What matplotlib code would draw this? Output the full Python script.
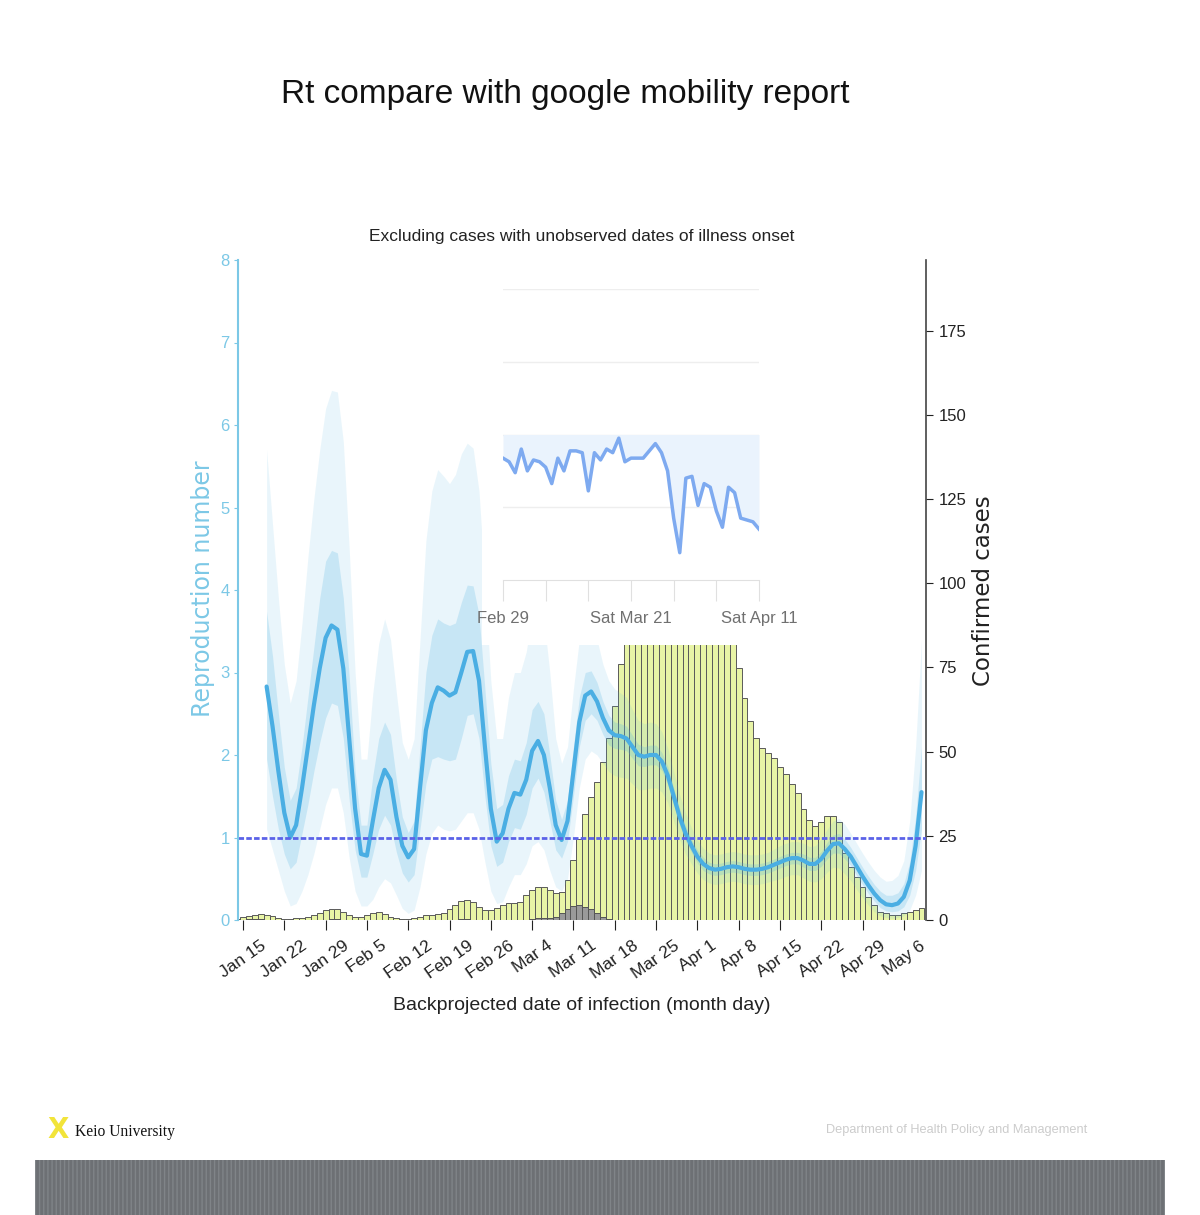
import numpy as np
import matplotlib.pyplot as plt
from matplotlib.patches import Rectangle

# ---- data ----
# days are counted from Jan 15
tick_days = list(range(0, 113, 7))
tick_labels = ['Jan 15', 'Jan 22', 'Jan 29', 'Feb 5', 'Feb 12', 'Feb 19', 'Feb 26',
               'Mar 4', 'Mar 11', 'Mar 18', 'Mar 25', 'Apr 1', 'Apr 8', 'Apr 15',
               'Apr 22', 'Apr 29', 'May 6']

rt_first_day = 4
rt = [2.83, 2.35, 1.8, 1.3, 1.0, 1.15, 1.6, 2.1, 2.6, 3.05, 3.42, 3.57, 3.52, 3.05,
      2.2, 1.35, 0.8, 0.78, 1.2, 1.6, 1.82, 1.7, 1.25, 0.9, 0.76, 0.86, 1.6, 2.3,
      2.63, 2.82, 2.78, 2.72, 2.76, 3.0, 3.25, 3.26, 2.9, 2.1, 1.35, 0.95, 1.05, 1.35,
      1.54, 1.52, 1.7, 2.05, 2.17, 2.0, 1.6, 1.15, 0.97, 1.2, 1.8, 2.4, 2.72, 2.77,
      2.65, 2.45, 2.3, 2.24, 2.23, 2.2, 2.1, 2.0, 1.98, 2.0, 2.0, 1.92, 1.75, 1.5,
      1.25, 1.05, 0.9, 0.77, 0.68, 0.63, 0.61, 0.62, 0.64, 0.65, 0.64, 0.62, 0.61,
      0.61, 0.62, 0.64, 0.67, 0.7, 0.73, 0.75, 0.75, 0.72, 0.68, 0.68, 0.74, 0.84,
      0.92, 0.93, 0.86, 0.77, 0.65, 0.53, 0.42, 0.32, 0.24, 0.19, 0.18, 0.2, 0.28,
      0.48, 0.9, 1.55]
rt_hi50 = [3.74, 3.2, 2.5, 1.85, 1.45, 1.6, 2.1, 2.7, 3.3, 3.9, 4.35, 4.48, 4.45, 3.9,
           2.95, 1.8, 1.15, 1.15, 1.75, 2.2, 2.4, 2.25, 1.7, 1.25, 1.06, 1.2, 2.1, 3.0,
           3.45, 3.65, 3.6, 3.57, 3.6, 3.85, 4.06, 4.05, 3.7, 2.8, 1.9, 1.35, 1.4, 1.75,
           1.95, 1.93, 2.15, 2.55, 2.65, 2.5, 2.0, 1.45, 1.22, 1.45, 2.1, 2.7, 3.0, 3.02,
           2.88, 2.65, 2.48, 2.4, 2.38, 2.35, 2.24, 2.13, 2.1, 2.12, 2.12, 2.03, 1.86,
           1.6, 1.35, 1.14, 0.98, 0.85, 0.76, 0.7, 0.68, 0.69, 0.71, 0.72, 0.71, 0.69,
           0.68, 0.68, 0.69, 0.71, 0.74, 0.77, 0.8, 0.82, 0.82, 0.8, 0.76, 0.76, 0.83,
           0.94, 1.03, 1.05, 0.98, 0.88, 0.76, 0.64, 0.53, 0.43, 0.35, 0.3, 0.3, 0.33,
           0.44, 0.7, 1.25, 2.1]
rt_lo50 = [1.95, 1.5, 1.1, 0.8, 0.62, 0.7, 1.05, 1.4, 1.8, 2.15, 2.45, 2.63, 2.6, 2.2,
           1.45, 0.85, 0.52, 0.52, 0.8, 1.1, 1.27, 1.15, 0.82, 0.57, 0.46, 0.55, 1.1, 1.65,
           1.95, 1.98, 1.95, 1.93, 1.95, 2.2, 2.48, 2.5, 2.2, 1.5, 0.9, 0.65, 0.7, 0.95,
           1.12, 1.1, 1.28, 1.6, 1.72, 1.55, 1.2, 0.85, 0.75, 0.95, 1.5, 2.1, 2.42, 2.5,
           2.42, 2.25, 2.12, 2.08, 2.07, 2.05, 1.96, 1.87, 1.86, 1.88, 1.88, 1.81, 1.64,
           1.4, 1.15, 0.96, 0.82, 0.69, 0.6, 0.56, 0.54, 0.55, 0.57, 0.58, 0.57, 0.55,
           0.54, 0.54, 0.55, 0.57, 0.6, 0.63, 0.66, 0.68, 0.68, 0.64, 0.6, 0.6, 0.65,
           0.74, 0.81, 0.81, 0.74, 0.66, 0.54, 0.43, 0.32, 0.23, 0.15, 0.11, 0.1, 0.11,
           0.16, 0.3, 0.6, 1.1]
rt_hi95 = [5.7, 4.8, 3.9, 3.1, 2.63, 2.9, 3.6, 4.4, 5.1, 5.7, 6.2, 6.42, 6.4, 5.8,
           4.5, 3.0, 1.95, 1.95, 2.75, 3.35, 3.65, 3.4, 2.75, 2.15, 1.95, 2.2, 3.4, 4.6,
           5.2, 5.46, 5.38, 5.29, 5.4, 5.65, 5.78, 5.72, 5.2, 4.1, 2.9, 2.2, 2.2, 2.7,
           3.0, 3.0, 3.25, 3.7, 3.85, 3.65, 3.0, 2.2, 1.9, 2.1, 2.8, 3.4, 3.65, 3.62,
           3.4, 3.1, 2.9, 2.8, 2.75, 2.7, 2.55, 2.42, 2.38, 2.4, 2.38, 2.28, 2.08, 1.8,
           1.52, 1.3, 1.12, 0.97, 0.87, 0.81, 0.79, 0.8, 0.82, 0.83, 0.82, 0.8, 0.79,
           0.79, 0.8, 0.82, 0.86, 0.9, 0.93, 0.95, 0.95, 0.93, 0.89, 0.9, 0.98, 1.1,
           1.2, 1.23, 1.16, 1.05, 0.93, 0.81, 0.7, 0.6, 0.52, 0.47, 0.48, 0.54, 0.72,
           1.2, 2.1, 3.4]
rt_lo95 = [1.1, 0.85, 0.6, 0.35, 0.17, 0.2, 0.35, 0.55, 0.8, 1.1, 1.4, 1.6, 1.6, 1.3,
           0.75, 0.35, 0.17, 0.17, 0.25, 0.4, 0.5, 0.45, 0.3, 0.14, 0.08, 0.12, 0.4, 0.8,
           1.05, 1.15, 1.1, 1.08, 1.1, 1.2, 1.3, 1.3, 1.1, 0.7, 0.35, 0.2, 0.22, 0.4,
           0.55, 0.55, 0.68, 0.9, 0.95, 0.85, 0.6, 0.4, 0.35, 0.5, 1.0, 1.6, 1.95, 2.05,
           2.0, 1.9, 1.8, 1.75, 1.73, 1.72, 1.65, 1.58, 1.58, 1.6, 1.6, 1.55, 1.42, 1.2,
           0.98, 0.8, 0.68, 0.57, 0.49, 0.45, 0.43, 0.44, 0.46, 0.47, 0.46, 0.44, 0.43,
           0.43, 0.44, 0.46, 0.48, 0.5, 0.53, 0.55, 0.55, 0.51, 0.47, 0.46, 0.5, 0.58,
           0.64, 0.63, 0.56, 0.48, 0.37, 0.27, 0.18, 0.1, 0.05, 0.03, 0.02, 0.03, 0.05,
           0.12, 0.3, 0.6]

case_first_day = -1
cases = [0.3, 0.8, 1.2, 1.5, 1.8, 1.6, 1.2, 0.5, 0.3, 0.3, 0.5, 0.7, 1.0, 1.5, 2.2,
         3.0, 3.4, 3.2, 2.5, 1.6, 1.0, 1.0, 1.6, 2.2, 2.3, 1.8, 1.0, 0.5, 0.3, 0.3,
         0.5, 1.0, 1.5, 1.6, 1.7, 2.0, 3.2, 4.5, 5.5, 5.9, 5.4, 3.9, 3.0, 3.0, 3.5,
         4.4, 5.0, 5.0, 5.4, 7.4, 8.9, 9.9, 9.9, 8.9, 7.9, 8.4, 11.8, 17.7, 24, 31.5,
         36.5, 41, 46.8, 54, 63.6, 76,
         88, 96, 102, 108, 112, 115, 118, 116, 113, 110, 107, 104, 100, 97, 94, 91,
         88, 85, 82,
         74.8, 66, 59, 54, 51, 49.7, 48, 45.3, 43.5, 40.5, 37.6, 33, 29.6, 28, 29, 31,
         31, 29, 20, 15.7, 12.7, 9.8, 6.8, 4.4, 2.5, 2, 1.5, 1.5, 2, 2.3, 3, 3.5]
grey_days = [1, 2, 3, 15, 16, 37, 38, 49, 50, 51, 52, 53, 54, 55, 56, 57, 58, 59, 60, 61, 62]
grey_cases = [0.3, 0.3, 0.3, 0.3, 0.3, 0.3, 0.3, 0.4, 0.5, 0.5, 0.5, 0.8, 2.0, 3.2,
              4.2, 4.4, 4.0, 3.2, 2.0, 1.0, 0.4]

# google mobility inset, days from Feb 29, percent change
mob_labels = ['Feb 29', '', '', 'Sat Mar 21', '', '', 'Sat Apr 11']
mobility = [-13, -15, -21, -8, -20, -14, -15, -18, -27, -13, -20, -9, -9, -10, -31,
            -10, -14, -8, -10, -2, -15, -13, -13, -13, -9, -5, -10, -20, -46, -65,
            -24, -23, -39, -27, -29, -42, -51, -29, -32, -46, -47, -48, -52]

W, H = 1200, 1215
sans = 'Liberation Sans'
light_blue = '#7cc8e6'


def box(x0, y0, x1, y1):
    return [x0 / W, 1 - y1 / H, (x1 - x0) / W, (y1 - y0) / H]


fig = plt.figure(figsize=(W / 100, H / 100), dpi=100)

ax = fig.add_axes(box(238, 260, 926, 920))
ax2 = ax.twinx()
ax.set_zorder(2)
ax2.set_zorder(1)
ax.patch.set_visible(False)

case_days = np.arange(case_first_day, case_first_day + len(cases))
ax2.bar(case_days, cases, width=1.0, color='#e8f4a6', edgecolor='#5a5a5a', linewidth=0.7)
ax2.bar(grey_days, grey_cases, width=1.0, color='#9a9a9a', edgecolor='#555555', linewidth=0.7)

rt_days = np.arange(rt_first_day, rt_first_day + len(rt))
ax.fill_between(rt_days, rt_lo95, rt_hi95, color='#50b4e1', alpha=0.12, lw=0)
ax.fill_between(rt_days, rt_lo50, rt_hi50, color='#50b4e1', alpha=0.22, lw=0)
ax.plot(rt_days, rt, color='#4aaee3', lw=3, solid_capstyle='round', solid_joinstyle='round')
ax.axhline(1, color='#5b62e8', lw=2, ls=(0, (2, 0.8)))

ax.set_xlim(-0.85, 115.76)
ax.set_ylim(0, 8)
ax2.set_ylim(0, 196)
ax.set_xticks(tick_days)
ax.set_xticklabels(tick_labels, rotation=35, ha='center', family=sans, fontsize=12.5)
ax.set_yticks(range(0, 9))
ax.tick_params(axis='y', colors=light_blue, length=3, pad=3, labelsize=12)
ax.tick_params(axis='x', colors='#222222', length=7, pad=6)
for lab in ax.get_yticklabels():
    lab.set_family(sans)
ax2.set_yticks(range(0, 176, 25))
ax2.tick_params(axis='y', colors='#222222', length=5, pad=4, labelsize=12)
for lab in ax2.get_yticklabels():
    lab.set_family(sans)

for a in (ax, ax2):
    a.spines['top'].set_visible(False)
    a.spines['bottom'].set_visible(False)
ax.spines['right'].set_visible(False)
ax2.spines['left'].set_visible(False)
ax.spines['left'].set_color(light_blue)
ax.spines['left'].set_linewidth(1.5)
ax2.spines['right'].set_color('#444444')
ax2.spines['right'].set_linewidth(1.2)

# white patch of the pasted mobility screenshot
cover = fig.add_axes(box(482, 268, 795, 645))
cover.set_zorder(5)
cover.set_xticks([])
cover.set_yticks([])
for s in cover.spines.values():
    s.set_visible(False)

ins = fig.add_axes(box(503, 289, 759, 580))
ins.set_zorder(6)
ins.set_facecolor('none')
mob_days = np.arange(len(mobility))
ins.fill_between(mob_days, mobility, 0, color='#eaf3fd', lw=0)
ins.plot(mob_days, mobility, color='#7eaaf0', lw=2.5)
ins.set_xlim(0, 42)
ins.set_ylim(-80, 80)
ins.set_yticks([-40, 0, 40, 80])
ins.yaxis.grid(True, color='#eeeeee', lw=1)
ins.tick_params(axis='y', length=0, labelleft=False)
ins.set_xticks(range(0, 43, 7))
ins.set_xticklabels(mob_labels, family=sans, fontsize=12, color='#707070')
ins.tick_params(axis='x', length=15, color='#e0e0e0', pad=7)
for side in ('top', 'left', 'right'):
    ins.spines[side].set_visible(False)
ins.spines['bottom'].set_color('#e0e0e0')
ins.set_axisbelow(True)

# texts
fig.text(565 / W, 1 - 95 / H, 'Rt compare with google mobility report', ha='center',
         va='center', fontsize=24, family=sans, color='#111111')
fig.text(582 / W, 1 - 237 / H, 'Excluding cases with unobserved dates of illness onset',
         ha='center', va='center', fontsize=12.5, family=sans, color='#222222')
fig.text(582 / W, 1 - 1005 / H, 'Backprojected date of infection (month day)',
         ha='center', va='center', fontsize=14, family=sans, color='#222222')
fig.text(203 / W, 1 - 589 / H, 'Reproduction number', rotation=90, ha='center',
         va='center', fontsize=17, color=light_blue)
fig.text(984 / W, 1 - 591 / H, 'Confirmed cases', rotation=90, ha='center',
         va='center', fontsize=16.5, color='#222222')

# slide footer
fig.text(58 / W, 1 - 1130 / H, 'X', ha='center', va='center', fontsize=20,
         fontweight='bold', color='#f2e43a')
fig.text(75 / W, 1 - 1132 / H, 'Keio University', ha='left', va='center',
         fontsize=11.2, family='Liberation Serif', color='#111111')
fig.text(826 / W, 1 - 1130 / H, 'Department of Health Policy and Management',
         ha='left', va='center', fontsize=9.2, family=sans, color='#cccccc')
plt.rcParams['hatch.linewidth'] = 1.0
fig.add_artist(Rectangle((35 / W, 0), (1165 - 35) / W, (1215 - 1160) / H,
                         transform=fig.transFigure, facecolor='#6d7074',
                         edgecolor='#808488', hatch='||||', lw=0))

fig.savefig('out.png', dpi=100)
